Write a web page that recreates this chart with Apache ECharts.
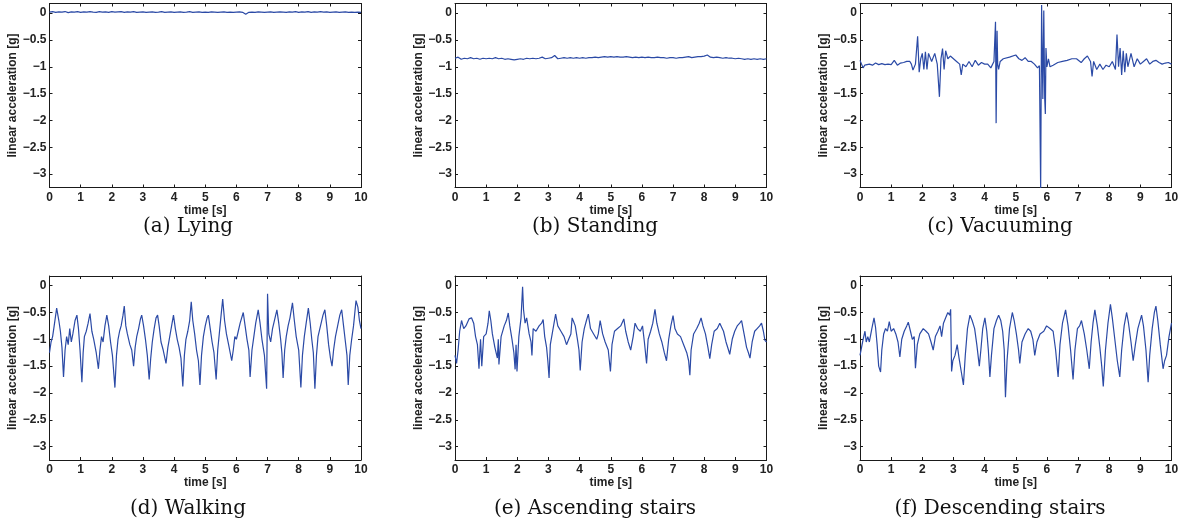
<!DOCTYPE html>
<html><head><meta charset="utf-8">
<script src="https://cdn.jsdelivr.net/npm/echarts@6/dist/echarts.min.js"></script>
<style>html,body{margin:0;padding:0;background:#fff}#c{width:1188px;height:525px}</style>
</head><body><div id="c"></div>
<script>
const captions = ['(a) Lying', '(b) Standing', '(c) Vacuuming', '(d) Walking', '(e) Ascending stairs', '(f) Descending stairs'];
const xLabel = 'time [s]';
const yLabel = 'linear acceleration [g]';
const xRange = [0, 10];
const yRange = [-3.25, 0.18];
const sampleStep = 0.1; // seconds between the listed samples of the two resting signals

const lyingValues = [0.02,0.03,0.015,0.025,0.02,0.03,0.01,0.025,0.02,0.03,
 0.015,0.025,0.02,0.03,0.02,0.015,0.03,0.02,0.025,0.015,
 0.03,0.02,0.025,0.03,0.015,0.025,0.02,0.03,0.015,0.02,
 0.025,0.015,0.02,0.025,0.015,0.02,0.03,0.015,0.02,0.025,
 0.015,0.02,0.025,0.015,0.02,0.03,0.015,0.02,0.025,0.015,
 0.02,0.015,0.025,0.02,0.015,0.02,0.025,0.015,0.02,0.015,
 0.02,0.025,0.015,-0.02,0.015,0.02,0.015,0.025,0.02,0.015,
 0.02,0.025,0.015,0.02,0.025,0.02,0.015,0.025,0.02,0.03,
 0.015,0.025,0.02,0.03,0.015,0.025,0.02,0.03,0.02,0.025,
 0.015,0.02,0.025,0.015,0.02,0.025,0.015,0.02,0.015,0.02,
 0.015];

const standingValues = [-0.84,-0.82,-0.86,-0.84,-0.85,-0.83,-0.85,-0.84,-0.86,-0.84,
 -0.85,-0.84,-0.85,-0.83,-0.85,-0.84,-0.86,-0.85,-0.86,-0.87,
 -0.86,-0.85,-0.86,-0.84,-0.85,-0.84,-0.85,-0.84,-0.82,-0.85,
 -0.84,-0.83,-0.79,-0.85,-0.84,-0.83,-0.84,-0.83,-0.84,-0.83,
 -0.84,-0.83,-0.84,-0.83,-0.83,-0.82,-0.83,-0.82,-0.81,-0.82,
 -0.81,-0.82,-0.81,-0.82,-0.82,-0.81,-0.82,-0.83,-0.82,-0.83,
 -0.82,-0.83,-0.82,-0.83,-0.83,-0.82,-0.83,-0.83,-0.84,-0.83,
 -0.83,-0.84,-0.83,-0.83,-0.82,-0.81,-0.83,-0.82,-0.81,-0.81,
 -0.80,-0.78,-0.82,-0.83,-0.82,-0.83,-0.84,-0.83,-0.84,-0.84,
 -0.85,-0.84,-0.85,-0.86,-0.85,-0.86,-0.85,-0.86,-0.85,-0.86,
 -0.85];

const vacuuming = [[0.00,-0.88],[0.05,-0.95],[0.10,-1.02],[0.15,-0.97],[0.20,-1.00],[0.30,-0.95],[0.40,-0.97],[0.50,-0.93],[0.60,-0.96],[0.70,-0.94],[0.80,-0.96],[0.90,-0.95],[1.00,-0.96],[1.10,-0.88],[1.20,-0.97],[1.30,-0.93],[1.40,-0.92],[1.50,-0.90],[1.60,-0.90],[1.65,-0.95],[1.70,-1.06],[1.78,-0.95],[1.85,-0.43],[1.90,-1.10],[1.95,-0.85],[2.00,-0.75],[2.05,-1.05],[2.10,-0.72],[2.15,-1.05],[2.20,-0.75],[2.30,-0.90],[2.40,-0.75],[2.48,-0.95],[2.55,-1.56],[2.60,-0.85],[2.65,-0.66],[2.70,-1.05],[2.75,-0.70],[2.82,-0.85],[2.90,-0.80],[3.00,-0.85],[3.10,-0.90],[3.20,-0.95],[3.25,-1.15],[3.30,-0.95],[3.40,-1.00],[3.50,-0.90],[3.60,-1.00],[3.70,-0.88],[3.80,-0.97],[3.90,-0.92],[4.00,-0.95],[4.10,-0.95],[4.20,-1.02],[4.30,-0.90],[4.35,-0.16],[4.37,-2.05],[4.40,-0.33],[4.42,-0.95],[4.45,-1.05],[4.50,-0.90],[4.60,-0.85],[4.80,-0.82],[5.00,-0.78],[5.10,-0.85],[5.20,-0.88],[5.30,-0.83],[5.40,-0.90],[5.50,-0.90],[5.60,-0.95],[5.70,-1.02],[5.76,-0.98],[5.80,-3.3],[5.83,0.15],[5.87,-1.60],[5.90,0.05],[5.93,-1.60],[5.95,-1.88],[5.97,-0.65],[6.00,-1.00],[6.05,-0.85],[6.10,-1.00],[6.20,-0.97],[6.35,-0.92],[6.50,-0.90],[6.65,-0.88],[6.80,-0.85],[6.95,-0.85],[7.10,-0.92],[7.20,-0.85],[7.30,-0.80],[7.40,-0.90],[7.45,-1.18],[7.50,-0.90],[7.60,-1.05],[7.70,-0.95],[7.80,-1.05],[7.90,-0.97],[8.00,-1.00],[8.10,-0.90],[8.20,-1.05],[8.25,-0.40],[8.30,-1.00],[8.35,-0.65],[8.40,-1.15],[8.45,-0.70],[8.50,-1.10],[8.55,-0.75],[8.60,-1.00],[8.70,-0.75],[8.80,-1.00],[8.90,-0.85],[9.00,-0.95],[9.10,-0.90],[9.20,-0.85],[9.30,-0.95],[9.40,-0.90],[9.50,-0.88],[9.60,-0.92],[9.70,-0.95],[9.80,-0.93],[9.90,-0.92],[10.00,-0.95]];

const walking = [[0.00,-1.25],[0.05,-1.05],[0.10,-0.95],[0.15,-0.75],[0.23,-0.42],[0.30,-0.65],[0.35,-0.85],[0.40,-1.15],[0.45,-1.70],[0.50,-1.20],[0.55,-0.95],[0.60,-1.10],[0.65,-0.80],[0.70,-1.05],[0.75,-0.90],[0.82,-0.65],[0.88,-0.55],[0.93,-0.80],[0.98,-1.20],[1.04,-1.80],[1.08,-1.25],[1.12,-0.95],[1.18,-0.85],[1.24,-0.70],[1.30,-0.52],[1.36,-0.85],[1.42,-1.00],[1.50,-1.25],[1.57,-1.55],[1.62,-1.20],[1.67,-0.95],[1.72,-1.05],[1.78,-0.75],[1.84,-0.55],[1.90,-0.75],[1.96,-1.05],[2.02,-1.30],[2.10,-1.90],[2.15,-1.30],[2.20,-1.00],[2.25,-0.85],[2.30,-0.75],[2.36,-0.55],[2.40,-0.38],[2.45,-0.75],[2.50,-0.90],[2.58,-1.10],[2.64,-1.20],[2.70,-1.50],[2.75,-1.15],[2.80,-0.95],[2.86,-0.80],[2.92,-0.62],[2.96,-0.55],[3.02,-0.75],[3.08,-1.00],[3.14,-1.30],[3.20,-1.75],[3.25,-1.35],[3.30,-1.05],[3.36,-0.80],[3.42,-0.60],[3.47,-0.55],[3.52,-0.75],[3.58,-1.05],[3.65,-1.20],[3.74,-1.45],[3.80,-1.15],[3.86,-0.95],[3.92,-0.75],[3.98,-0.55],[4.04,-0.80],[4.10,-1.00],[4.16,-1.15],[4.22,-1.35],[4.28,-1.88],[4.33,-1.30],[4.38,-1.00],[4.44,-0.85],[4.50,-0.65],[4.55,-0.30],[4.60,-0.65],[4.66,-0.90],[4.72,-1.20],[4.78,-1.40],[4.83,-1.85],[4.88,-1.30],[4.94,-0.95],[5.00,-0.75],[5.06,-0.60],[5.10,-0.55],[5.16,-0.80],[5.22,-1.05],[5.28,-1.25],[5.35,-1.75],[5.40,-1.20],[5.45,-0.90],[5.50,-0.60],[5.56,-0.25],[5.62,-0.65],[5.68,-0.90],[5.75,-1.10],[5.85,-1.40],[5.90,-1.20],[5.95,-0.95],[6.00,-1.00],[6.06,-0.85],[6.12,-0.70],[6.22,-0.50],[6.28,-0.75],[6.34,-1.00],[6.40,-1.20],[6.44,-1.70],[6.50,-1.20],[6.56,-0.95],[6.62,-0.70],[6.70,-0.45],[6.76,-0.70],[6.82,-1.00],[6.90,-1.30],[6.97,-1.92],[7.00,-0.15],[7.04,-0.90],[7.10,-1.05],[7.16,-0.80],[7.22,-0.65],[7.30,-0.45],[7.36,-0.70],[7.42,-1.00],[7.46,-1.25],[7.50,-1.72],[7.55,-1.20],[7.60,-0.95],[7.66,-0.75],[7.72,-0.60],[7.80,-0.32],[7.86,-0.65],[7.92,-0.95],[8.00,-1.20],[8.07,-1.90],[8.12,-1.30],[8.18,-0.95],[8.24,-0.70],[8.31,-0.42],[8.37,-0.70],[8.42,-1.00],[8.47,-1.25],[8.52,-1.92],[8.57,-1.30],[8.62,-0.95],[8.70,-0.75],[8.78,-0.55],[8.84,-0.45],[8.90,-0.75],[8.96,-1.10],[9.02,-1.35],[9.07,-1.50],[9.12,-1.20],[9.18,-0.95],[9.25,-0.75],[9.32,-0.55],[9.38,-0.45],[9.44,-0.75],[9.50,-1.05],[9.55,-1.30],[9.59,-1.85],[9.64,-1.30],[9.70,-1.00],[9.76,-0.75],[9.84,-0.28],[9.90,-0.40],[9.95,-0.65],[10.0,-0.80]];

const ascending = [[0.00,-1.30],[0.05,-1.45],[0.10,-1.20],[0.15,-0.85],[0.21,-0.65],[0.28,-0.80],[0.35,-0.75],[0.45,-0.62],[0.53,-0.60],[0.60,-0.70],[0.66,-0.95],[0.72,-1.10],[0.77,-1.55],[0.82,-1.00],[0.86,-1.50],[0.92,-0.95],[1.00,-0.90],[1.06,-0.70],[1.10,-0.47],[1.15,-0.65],[1.20,-0.90],[1.28,-1.15],[1.36,-1.35],[1.39,-1.00],[1.41,-1.47],[1.48,-0.95],[1.58,-0.75],[1.65,-0.65],[1.71,-0.51],[1.76,-0.75],[1.83,-1.00],[1.89,-1.25],[1.93,-1.56],[1.96,-1.10],[1.99,-1.60],[2.05,-0.95],[2.12,-0.60],[2.17,-0.02],[2.20,-0.45],[2.25,-0.70],[2.30,-0.60],[2.38,-0.90],[2.44,-1.05],[2.47,-1.30],[2.51,-0.80],[2.60,-0.85],[2.70,-0.75],[2.78,-0.70],[2.83,-0.63],[2.88,-0.95],[2.94,-1.15],[2.98,-1.40],[3.02,-1.72],[3.06,-1.10],[3.12,-0.90],[3.18,-0.70],[3.23,-0.53],[3.30,-0.75],[3.40,-0.85],[3.50,-0.95],[3.58,-1.10],[3.65,-1.00],[3.72,-0.90],[3.76,-0.60],[3.80,-0.66],[3.86,-0.75],[3.93,-1.00],[3.98,-1.20],[4.02,-1.58],[4.08,-1.05],[4.15,-0.80],[4.22,-0.65],[4.28,-0.53],[4.35,-0.80],[4.45,-0.90],[4.55,-1.00],[4.60,-0.90],[4.66,-0.65],[4.74,-0.90],[4.82,-1.05],[4.92,-1.20],[4.99,-1.60],[5.04,-1.10],[5.12,-0.85],[5.22,-0.80],[5.32,-0.75],[5.42,-0.62],[5.48,-0.85],[5.56,-1.05],[5.64,-1.20],[5.72,-0.95],[5.78,-0.70],[5.86,-0.80],[5.95,-0.85],[6.02,-0.75],[6.08,-1.05],[6.15,-1.45],[6.20,-1.00],[6.28,-0.85],[6.35,-0.70],[6.42,-0.44],[6.48,-0.70],[6.56,-0.90],[6.64,-1.05],[6.72,-1.25],[6.79,-1.40],[6.86,-1.00],[6.93,-0.75],[7.00,-0.56],[7.06,-0.80],[7.14,-0.90],[7.24,-0.95],[7.34,-1.10],[7.44,-1.25],[7.50,-1.40],[7.54,-1.67],[7.58,-1.20],[7.66,-0.90],[7.76,-0.80],[7.84,-0.70],[7.90,-0.60],[7.96,-0.75],[8.04,-0.90],[8.12,-1.15],[8.18,-1.36],[8.24,-1.10],[8.32,-0.85],[8.42,-0.80],[8.50,-0.70],[8.55,-0.67],[8.62,-0.85],[8.70,-1.05],[8.78,-1.20],[8.82,-1.28],[8.90,-1.00],[8.98,-0.85],[9.06,-0.75],[9.14,-0.70],[9.20,-0.65],[9.28,-0.90],[9.36,-1.15],[9.42,-1.25],[9.47,-1.35],[9.54,-1.05],[9.62,-0.85],[9.70,-0.80],[9.78,-0.75],[9.84,-0.70],[9.90,-0.85],[9.95,-1.02],[10.00,-1.05]];

const descending = [[0.00,-1.30],[0.05,-1.15],[0.10,-1.00],[0.16,-0.85],[0.20,-1.05],[0.25,-0.95],[0.30,-1.05],[0.38,-0.80],[0.45,-0.60],[0.50,-0.78],[0.55,-1.10],[0.60,-1.50],[0.66,-1.61],[0.70,-1.20],[0.76,-0.90],[0.82,-0.80],[0.88,-0.85],[0.94,-0.67],[1.00,-0.85],[1.08,-0.80],[1.15,-0.90],[1.22,-1.05],[1.28,-1.33],[1.34,-1.00],[1.42,-0.85],[1.50,-0.75],[1.55,-0.68],[1.62,-0.85],[1.68,-1.00],[1.74,-0.95],[1.78,-1.54],[1.84,-1.10],[1.92,-0.90],[2.03,-0.80],[2.12,-0.85],[2.20,-0.90],[2.28,-1.05],[2.35,-1.20],[2.42,-0.95],[2.50,-0.85],[2.57,-0.75],[2.62,-0.95],[2.68,-0.70],[2.75,-0.60],[2.82,-0.50],[2.88,-0.55],[2.91,-0.44],[2.94,-1.60],[2.98,-1.40],[3.05,-1.30],[3.12,-1.10],[3.18,-1.35],[3.25,-1.60],[3.32,-1.85],[3.38,-1.30],[3.45,-0.80],[3.53,-0.55],[3.60,-0.65],[3.68,-0.80],[3.75,-1.10],[3.83,-1.50],[3.88,-1.20],[3.94,-0.80],[4.01,-0.60],[4.07,-0.85],[4.12,-1.20],[4.17,-1.70],[4.22,-1.30],[4.30,-0.80],[4.38,-0.65],[4.45,-0.55],[4.52,-0.65],[4.58,-0.85],[4.63,-1.20],[4.67,-2.08],[4.72,-1.40],[4.80,-0.80],[4.89,-0.50],[4.95,-0.65],[5.02,-0.90],[5.09,-1.20],[5.13,-1.45],[5.20,-1.05],[5.30,-0.90],[5.40,-0.80],[5.48,-0.85],[5.55,-1.00],[5.61,-1.30],[5.68,-1.05],[5.78,-0.90],[5.90,-0.85],[5.99,-0.75],[6.10,-0.80],[6.20,-0.85],[6.28,-1.20],[6.36,-1.70],[6.42,-1.10],[6.50,-0.70],[6.60,-0.45],[6.68,-0.75],[6.76,-1.20],[6.84,-1.75],[6.90,-1.20],[6.98,-0.80],[7.05,-0.75],[7.11,-0.65],[7.20,-0.90],[7.28,-1.20],[7.36,-1.55],[7.42,-1.05],[7.48,-0.70],[7.54,-0.45],[7.62,-0.75],[7.70,-1.15],[7.76,-1.50],[7.81,-1.88],[7.88,-1.20],[7.96,-0.70],[8.04,-0.35],[8.10,-0.60],[8.18,-1.00],[8.26,-1.40],[8.34,-1.70],[8.40,-1.20],[8.48,-0.75],[8.56,-0.50],[8.62,-0.70],[8.70,-1.05],[8.77,-1.40],[8.84,-1.10],[8.92,-0.80],[9.04,-0.55],[9.10,-0.75],[9.18,-1.20],[9.25,-1.80],[9.30,-1.30],[9.38,-0.80],[9.45,-0.50],[9.50,-0.38],[9.56,-0.65],[9.64,-1.10],[9.73,-1.55],[9.78,-1.40],[9.84,-1.30],[9.92,-0.95],[10.00,-0.70]];

const toPairs = vals => vals.map((v, k) => [+(k * sampleStep).toFixed(2), v]);
const seriesData = [toPairs(lyingValues), toPairs(standingValues), vacuuming, walking, ascending, descending];

const colLeft = [49.5, 455, 860];
const colCaption = [188, 595, 1000];
const rowTop = [3.5, 276];
const rowCaption = [226.7, 508.3];
const W = 311.5, H = 184;
const AX = '#1a1a1a';
const LINE = '#2b4aa6';
const labelFont = { fontFamily: 'Liberation Sans, Arial, sans-serif', fontWeight: 'bold', fontSize: 12, color: '#222' };

const grid = [], xAxis = [], yAxis = [], series = [], graphic = [];
seriesData.forEach((d, i) => {
  const r = Math.floor(i / 3), c = i % 3;
  grid.push({ left: colLeft[c], top: rowTop[r], width: W, height: H });
  const common = {
    gridIndex: i, type: 'value',
    axisLine: { show: true, onZero: false, lineStyle: { color: AX, width: 1 } },
    axisTick: { show: true, inside: true, length: 3, lineStyle: { color: AX } },
    splitLine: { show: false }
  };
  xAxis.push(Object.assign({}, common, {
    position: 'bottom', min: xRange[0], max: xRange[1], interval: 1,
    axisLabel: Object.assign({ margin: 4 }, labelFont),
    name: xLabel, nameLocation: 'middle', nameGap: 13,
    nameTextStyle: Object.assign({}, labelFont)
  }));
  xAxis.push(Object.assign({}, common, {
    position: 'top', min: xRange[0], max: xRange[1], interval: 1,
    axisLabel: { show: false }
  }));
  yAxis.push(Object.assign({}, common, {
    position: 'left', min: yRange[0], max: yRange[1],
    axisLabel: Object.assign({ margin: 3, showMinLabel: false, showMaxLabel: false,
      formatter: v => v === 0 ? '0' : String(v).replace('-', '\u2212') }, labelFont),
    name: yLabel, nameLocation: 'middle', nameGap: 25,
    nameTextStyle: Object.assign({}, labelFont)
  }));
  yAxis.push(Object.assign({}, common, {
    position: 'right', min: yRange[0], max: yRange[1],
    axisLabel: { show: false }
  }));
  series.push({
    type: 'line', xAxisIndex: 2 * i, yAxisIndex: 2 * i, data: d,
    showSymbol: false, symbol: 'none', clip: true,
    lineStyle: { width: 1.2, color: LINE }, itemStyle: { color: LINE }
  });
  graphic.push({
    type: 'text', x: colCaption[c], y: rowCaption[r],
    style: { text: captions[i], font: '20px "DejaVu Serif"', fill: '#111',
      align: 'center', verticalAlign: 'middle', textAlign: 'center', textVerticalAlign: 'middle' }
  });
});

const chart = echarts.init(document.getElementById('c'), null, { renderer: 'canvas' });
chart.setOption({ animation: false, backgroundColor: '#fff', grid, xAxis, yAxis, series, graphic });
</script></body></html>
